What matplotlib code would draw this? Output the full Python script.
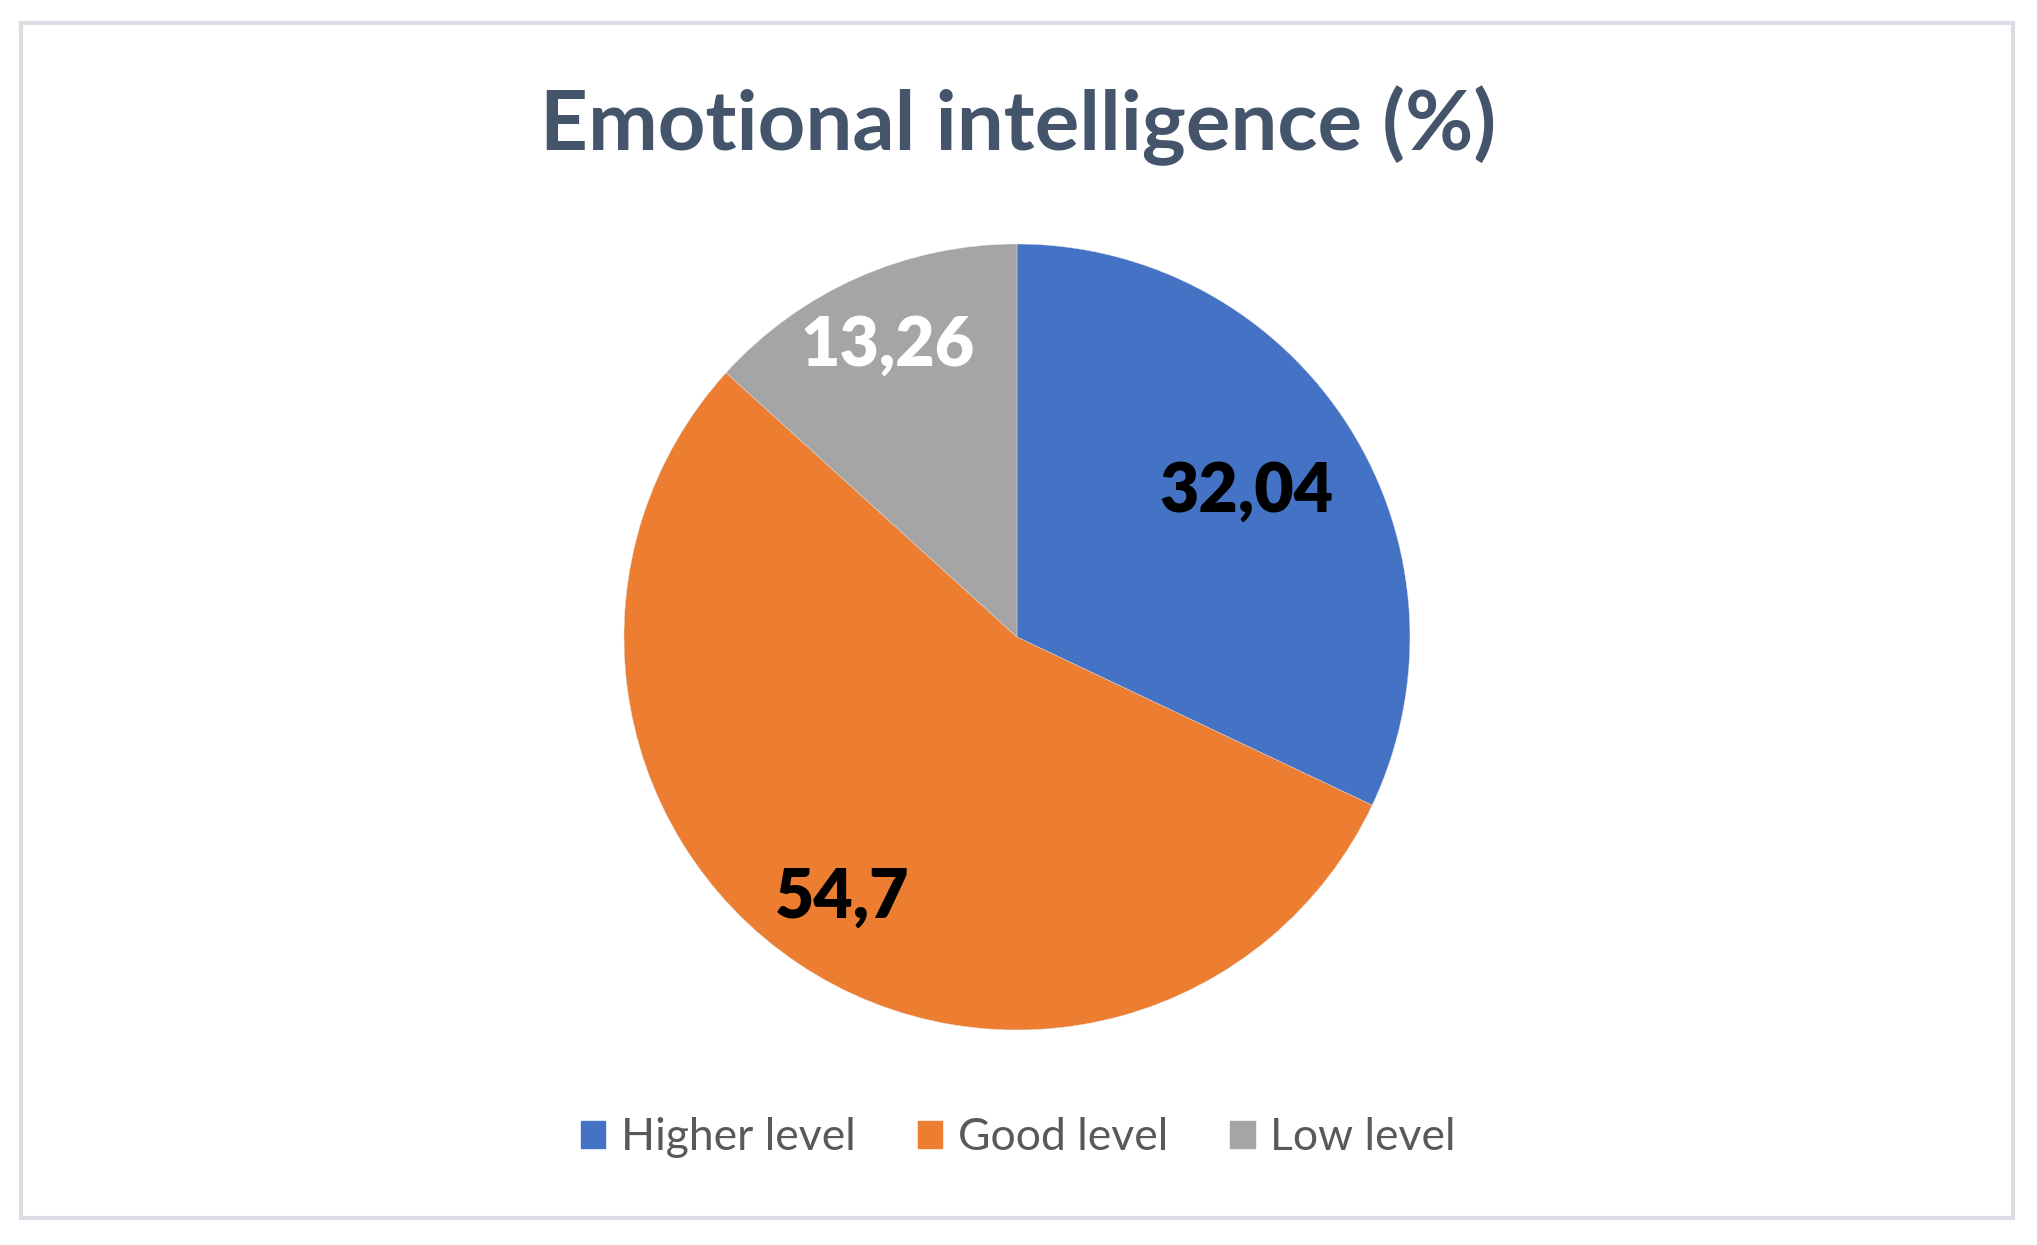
import numpy as np
import matplotlib
matplotlib.use("Agg")
import matplotlib.pyplot as plt
import matplotlib.patches as mpatches

# data
categories = ['Higher level', 'Good level', 'Low level']
values = [32.04, 54.7, 13.26]
value_labels = ['32,04', '54,7', '13,26']

colors = ['#4472C4', '#ED7D31', '#A5A5A5']
label_colors = ['#000000', '#000000', '#FFFFFF']
label_dist = [0.69, 0.80, 0.81]

plt.rcParams['font.family'] = ['Lato', 'DejaVu Sans']

fig = plt.figure(figsize=(20.37, 12.45), dpi=100)
fig.patch.set_facecolor('white')

# outer frame of the chart area
frame = mpatches.Rectangle((21 / 2037, 1 - 1218 / 1245), (2013 - 21) / 2037, (1218 - 23) / 1245,
                           transform=fig.transFigure, fill=False, ec='#D9DDE3', lw=3)
fig.patches.append(frame)

ax = fig.add_axes([0.3063, 0.1727, 0.3859, 0.6313])
wedges, _ = ax.pie(values, colors=colors, startangle=90, counterclock=False, radius=1,
                   wedgeprops=dict(linewidth=0.3, edgecolor='#E0E0E0'))
ax.set_xlim(-1, 1)
ax.set_ylim(-1, 1)
ax.set_aspect('equal')
ax.axis('off')

# value labels inside slices
for w, txt, c, d in zip(wedges, value_labels, label_colors, label_dist):
    ang = np.deg2rad((w.theta1 + w.theta2) / 2)
    ax.text(d * np.cos(ang), d * np.sin(ang), txt, ha='center', va='center',
            fontsize=49, fontweight='heavy', color=c)

fig.text(0.5, 1 - 126 / 1245, 'Emotional intelligence (%)', ha='center', va='center',
         fontsize=60, fontweight='bold', color='#44546A')

handles = [mpatches.Patch(color=c) for c in colors]
fig.legend(handles, categories, loc='center', bbox_to_anchor=(0.5, 1 - 1138 / 1245),
           ncol=3, frameon=False, fontsize=32, labelcolor='#595959',
           handlelength=0.55, handleheight=0.55, handletextpad=0.35, columnspacing=1.4)

fig.savefig('out.png', dpi=100, facecolor='white')
